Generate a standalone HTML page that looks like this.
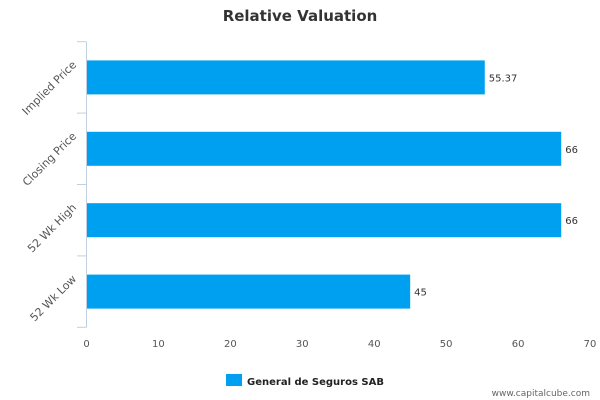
<!DOCTYPE html>
<html><head><meta charset="utf-8"><style>
body{margin:0;background:#fff;}
svg{display:block;font-family:"DejaVu Sans","Liberation Sans",sans-serif;}
</style></head><body>
<svg id="chart" width="600" height="400">
<text x="300" y="21" text-anchor="middle" font-size="15" font-weight="bold" fill="#333">Relative Valuation</text>
<g id="plot"></g>
<rect x="226" y="374" width="16" height="12" fill="#00a0f0"/>
<text x="247" y="385" font-size="10" font-weight="bold" fill="#222">General de Seguros SAB</text>
<text x="590" y="396" text-anchor="end" font-size="9" fill="#666">www.capitalcube.com</text>
</svg>
<script>
const categories = ["Implied Price","Closing Price","52 Wk High","52 Wk Low"];
const values = [55.37,66,66,45];
const valueLabels = ["55.37","66","66","45"];
const xTicks = [0,10,20,30,40,50,60,70];
const ns="http://www.w3.org/2000/svg";
const g=document.getElementById('plot');
const x0=86.5,x1=590,xMax=70,yTop=41.7,yBot=327.3;
const xs=v=>x0+(v/xMax)*(x1-x0);
const band=(yBot-yTop)/categories.length;
function mk(t,a){const e=document.createElementNS(ns,t);for(const k in a)e.setAttribute(k,a[k]);g.appendChild(e);return e;}
let ax=mk('line',{x1:x0,y1:yTop,x2:x0,y2:yBot,stroke:'#c0d0e0','stroke-width':1});


for(let i=0;i<=categories.length;i++){
  const y=yTop+i*band;
  const t=mk('line',{x1:77,y1:y,x2:x0,y2:y,stroke:'#c0d0e0','stroke-width':1});
  
  
}
categories.forEach((c,i)=>{
  const cy=yTop+band*(i+0.5);
  const bh=34;
  const r=mk('rect',{x:x0+0.5,y:cy-bh/2,width:xs(values[i])-x0-0.5,height:bh,fill:'#00a0f0'});
  
  
  const v=mk('text',{x:xs(values[i])+4,y:cy+4,'font-size':10,fill:'#333'});
  v.textContent=valueLabels[i];
  
  
  const l=mk('text',{x:0,y:0,'font-size':11,fill:'#555','text-anchor':'end',transform:`translate(77,${cy-12}) rotate(-45)`});
  l.textContent=c;
  
  
});
xTicks.forEach(t=>{
  const e=mk('text',{x:xs(t),y:347,'font-size':10,fill:'#555','text-anchor':'middle'});
  e.textContent=t;
  
  
});
</script>
</body></html>
